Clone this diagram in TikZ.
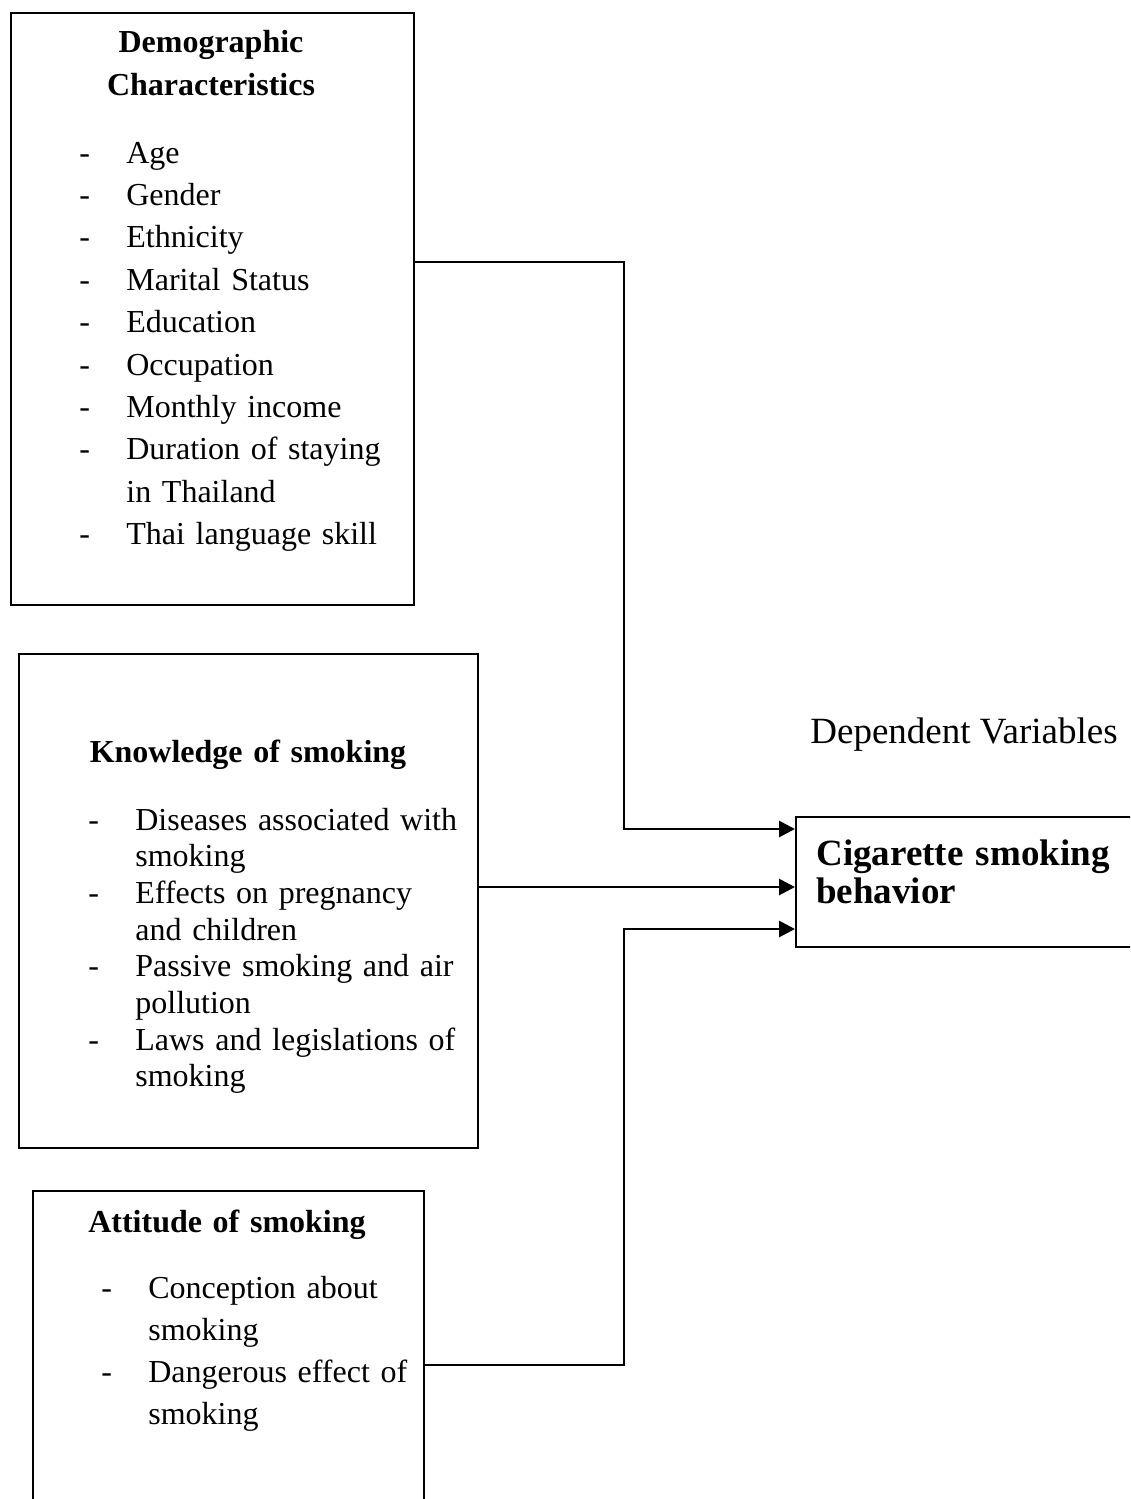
\documentclass[tikz,border=0pt]{standalone}
\usepackage{fontspec}
\setmainfont{Liberation Serif}
\usetikzlibrary{arrows.meta,positioning}

\newcommand{\itemdash}{\makebox[23.5pt][l]{-}}
\newcommand{\itemgap}{\hspace*{23.5pt}}

\begin{document}
\begin{tikzpicture}[
  x=0.5pt, y=-0.5pt,
  box/.style={draw, line width=1pt, inner sep=0pt, anchor=north west},
  head/.style={font=\bfseries\fontsize{16pt}{21pt}\selectfont, text width=190pt,
    align=center, inner sep=0pt, anchor=base},
  list/.style={font=\fontsize{16pt}{#1}\selectfont, text width=195pt,
    align=left, inner sep=0pt, anchor=base west},
  link/.style={line width=1.4pt, -{Triangle[length=8pt,width=8pt]}}
]
\useasboundingbox (0,0) rectangle (1130,1499);
\clip (0,0) rectangle (1130,1499);

% boxes
\node[box, minimum width=201.5pt, minimum height=296pt] (demo) at (10,12) {};
\node[box, minimum width=229.5pt, minimum height=247pt] (know) at (18,653) {};
\node[box, minimum width=195.5pt, minimum height=190pt] (att) at (32,1190) {};
\node[box, minimum width=185pt, minimum height=65pt] (cig) at (795,816) {};

% texts
\node[head] (demohead) at (211,53) {Demographic\\Characteristics};
\node[list=21.2pt] (demolist) at (79,163)
  {\itemdash Age\\
   \itemdash Gender\\
   \itemdash Ethnicity\\
   \itemdash Marital Status\\
   \itemdash Education\\
   \itemdash Occupation\\
   \itemdash Monthly income\\
   \itemdash Duration of staying\\
   \itemgap in Thailand\\
   \itemdash Thai language skill};

\node[head] (knowhead) at (248,762) {Knowledge of smoking};
\node[list=18.35pt] (knowlist) at (88,830)
  {\itemdash Diseases associated with\\
   \itemgap smoking\\
   \itemdash Effects on pregnancy\\
   \itemgap and children\\
   \itemdash Passive smoking and air\\
   \itemgap pollution\\
   \itemdash Laws and legislations of\\
   \itemgap smoking};

\node[head] (atthead) at (227,1232) {Attitude of smoking};
\node[list=21.15pt] (attlist) at (101,1298)
  {\itemdash Conception about\\
   \itemgap smoking\\
   \itemdash Dangerous effect of\\
   \itemgap smoking};

\node[inner sep=0pt, anchor=base west, font=\fontsize{18.5pt}{19pt}\selectfont]
  (deplabel) at (810,743) {Dependent Variables};
\node[inner sep=0pt, anchor=base west, text width=175pt, align=left,
  font=\bfseries\fontsize{18.5pt}{19pt}\selectfont]
  (cigtext) at (816,865) {Cigarette smoking\\behavior};

% connectors
\draw[link] (demo.east |- 0,262) -| (624,829) -- (cig.west |- 0,829);
\draw[link] (know.east |- 0,887) -- (cig.west |- 0,887);
\draw[link] (att.east |- 0,1365) -| (624,929) -- (cig.west |- 0,929);
\end{tikzpicture}
\end{document}
